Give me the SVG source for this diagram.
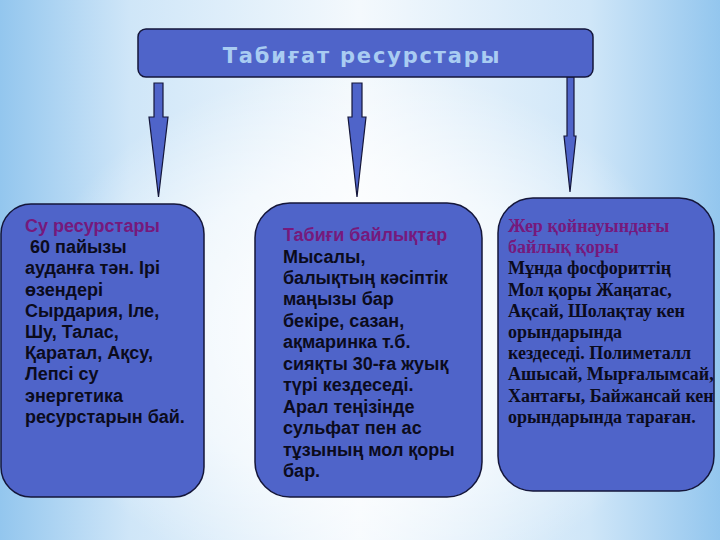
<svg xmlns="http://www.w3.org/2000/svg" width="720" height="540" viewBox="0 0 720 540">
<defs>
<linearGradient id="bgh" x1="0" y1="0" x2="1" y2="0">
<stop offset="0" stop-color="#93c6ee"/>
<stop offset="0.18" stop-color="#cfe6f8"/>
<stop offset="0.5" stop-color="#f4f9fd"/>
<stop offset="0.82" stop-color="#cfe6f8"/>
<stop offset="1" stop-color="#93c6ee"/>
</linearGradient>
<radialGradient id="glow" gradientUnits="userSpaceOnUse" cx="360" cy="330" r="330" gradientTransform="translate(360 330) scale(1 0.8) translate(-360 -330)">
<stop offset="0" stop-color="#ffffff" stop-opacity="1"/>
<stop offset="0.6" stop-color="#ffffff" stop-opacity="0.6"/>
<stop offset="1" stop-color="#ffffff" stop-opacity="0"/>
</radialGradient>
<style>
.box{fill:#4f64c9;stroke:#14163a;stroke-width:1.5}
.arrow{fill:#4f64c9;stroke:#14163a;stroke-width:1.2;stroke-linejoin:miter}
.title{font-family:"DejaVu Sans",Verdana,sans-serif;font-weight:bold;font-size:21px;fill:#a9ccf2;letter-spacing:1.8px}
.sans{font-family:"Liberation Sans",Arial,sans-serif;font-weight:bold;font-size:18px;fill:#0b0b1c}
.serif{font-family:"Liberation Serif","Times New Roman",serif;font-weight:bold;font-size:18px;fill:#0b0b1c}
.hd{fill:#76197c}
</style>
</defs>
<rect width="720" height="540" fill="url(#bgh)"/>
<rect width="720" height="540" fill="url(#glow)"/>

<g id="connectors">
<polygon class="arrow" points="154,83 163,83 163,117 168,117 158.5,197 149,117 154,117"/>
<polygon class="arrow" points="352,83 362,83 362,117 366,117 357,197 348,117 352,117"/>
<polygon class="arrow" points="567,77 574,77 574,136 576,136 570,192 564,136 567,136"/>
</g>

<g id="root">
<rect class="box" x="138" y="29" width="455" height="48" rx="8"/>
<text class="title" x="362" y="63" text-anchor="middle">Табиғат ресурстары</text>
</g>

<g id="water">
<rect class="box" x="1" y="204" width="203" height="293" rx="30"/>
<text class="sans">
<tspan class="hd" x="25" y="232">Су ресурстары</tspan>
<tspan x="30" y="253.2">60 пайызы</tspan>
<tspan x="25" y="274.4">ауданға тән. Ірі</tspan>
<tspan x="25" y="295.6">өзендері</tspan>
<tspan x="25" y="316.8">Сырдария, Іле,</tspan>
<tspan x="25" y="338">Шу, Талас,</tspan>
<tspan x="25" y="359.2">Қаратал, Ақсу,</tspan>
<tspan x="25" y="380.4">Лепсі су</tspan>
<tspan x="25" y="401.6">энергетика</tspan>
<tspan x="25" y="423">ресурстарын бай.</tspan>
</text>
</g>

<g id="natural">
<rect class="box" x="255" y="203" width="227" height="294" rx="35"/>
<text class="sans">
<tspan class="hd" x="283" y="241">Табиғи байлықтар</tspan>
<tspan x="283" y="262.5">Мысалы,</tspan>
<tspan x="283" y="284">балықтың кәсіптік</tspan>
<tspan x="283" y="305.4">маңызы бар</tspan>
<tspan x="283" y="326.8">бекіре, сазан,</tspan>
<tspan x="283" y="348.2">ақмаринка т.б.</tspan>
<tspan x="283" y="369.7">сияқты 30-ға жуық</tspan>
<tspan x="283" y="391.1">түрі кездеседі.</tspan>
<tspan x="283" y="412.6">Арал теңізінде</tspan>
<tspan x="283" y="434">сульфат пен ас</tspan>
<tspan x="283" y="455.5">тұзының мол қоры</tspan>
<tspan x="283" y="477">бар.</tspan>
</text>
</g>

<g id="mineral">
<rect class="box" x="498" y="198" width="216" height="293" rx="35"/>
<text class="serif">
<tspan class="hd" x="508" y="232">Жер қойнауындағы</tspan>
<tspan class="hd" x="508" y="253.2">байлық қоры</tspan>
<tspan x="508" y="274.4">Мұнда фосфориттің</tspan>
<tspan x="508" y="295.6">Мол қоры Жаңатас,</tspan>
<tspan x="508" y="316.8">Ақсай, Шолақтау кен</tspan>
<tspan x="508" y="338">орындарында</tspan>
<tspan x="508" y="359.2">кездеседі. Полиметалл</tspan>
<tspan x="508" y="380.4">Ашысай, Мырғалымсай,</tspan>
<tspan x="508" y="401.6">Хантағы, Байжансай кен</tspan>
<tspan x="508" y="423">орындарында тараған.</tspan>
</text>
</g>
</svg>
